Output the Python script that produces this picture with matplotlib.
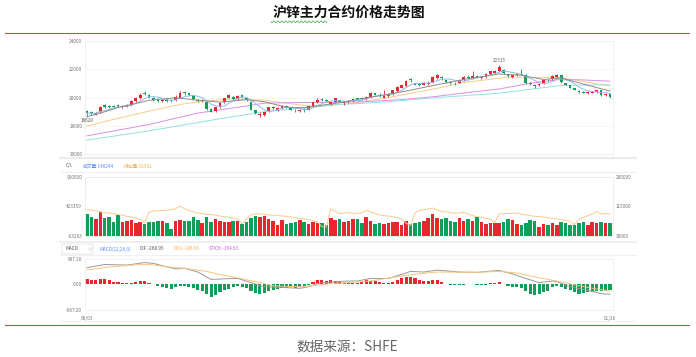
import numpy as np
import pandas as pd
import matplotlib
matplotlib.use("Agg")
import matplotlib.pyplot as plt
from matplotlib.lines import Line2D
from matplotlib.patches import FancyBboxPatch

plt.rcParams['font.family'] = ['Noto Sans CJK SC', 'DejaVu Sans']

# ---- data ----
title = "沪锌主力合约价格走势图"
source = "数据来源：SHFE"
date_first, date_last = "08/03", "01/26"

opens = [19050, 18980, 18800, 18950, 19450, 19420, 19400, 19480, 19300, 19350,
         19450, 19750, 19950, 20350, 20200, 20000, 19880, 19750, 19850, 19820,
         19800, 20000, 20400, 20300, 20100, 19850, 19750, 19700, 19200, 19050,
         19300, 19650, 20000, 20050, 19900, 20150, 20000, 19700, 19100, 18750,
         18800, 19050, 19250, 19150, 19250, 19400, 19250, 19150, 19050, 19200,
         19150, 19400, 19650, 19900, 19850, 19550, 19700, 19800, 19600, 19650,
         19750, 19950, 19950, 19900, 20050, 20300, 20200, 20000, 20100, 20250,
         20450, 20700, 20800, 21300, 21000, 20950, 20900, 20950, 21100, 21350,
         21450, 21200, 21100, 21050, 21050, 21200, 21450, 21350, 21500, 21350,
         21450, 21650, 21750, 21850, 21950, 21600, 21450, 21550, 21650, 21600,
         21050, 20900, 20850, 21000, 21250, 21300, 21450, 21550, 21000, 20850,
         20650, 20450, 20400, 20320, 20350, 20400, 20500, 20150, 20280]
closes = [18900, 18880, 18900, 19350, 19350, 19350, 19330, 19380, 19380, 19450,
          19750, 19950, 20200, 20250, 20050, 19850, 19750, 19820, 19780, 19760,
          20050, 20350, 20300, 20150, 19900, 19750, 19800, 19200, 19000, 19300,
          19600, 19950, 20150, 19900, 20100, 20050, 19800, 19150, 18900, 18850,
          18950, 19300, 19330, 19250, 19380, 19300, 19150, 19100, 19150, 19100,
          19400, 19650, 19850, 19800, 19750, 19650, 19950, 19700, 19650, 19750,
          19880, 19900, 19900, 20050, 20350, 20200, 20100, 20100, 20250, 20500,
          20750, 20850, 21150, 21200, 20900, 20900, 21000, 21050, 21450, 21550,
          21350, 21100, 21050, 21000, 21200, 21450, 21400, 21500, 21450, 21450,
          21650, 21850, 21900, 22150, 21700, 21500, 21550, 21650, 21600, 21000,
          20950, 20800, 20950, 21200, 21200, 21500, 21550, 21100, 20900, 20700,
          20550, 20400, 20350, 20370, 20400, 20500, 20150, 20280, 20050]
highs = [19100, 19050, 18980, 19420, 19550, 19500, 19450, 19550, 19450, 19520,
         19800, 20050, 20300, 20450, 20250, 20050, 19950, 19900, 19950, 19880,
         20150, 20450, 20450, 20350, 20150, 19900, 19900, 19750, 19250, 19350,
         19650, 20000, 20250, 20100, 20150, 20250, 20050, 19750, 19150, 18950,
         19000, 19350, 19400, 19300, 19450, 19450, 19300, 19200, 19200, 19250,
         19450, 19700, 19950, 19950, 19900, 19700, 20000, 19850, 19700, 19800,
         19950, 20000, 20050, 20100, 20400, 20350, 20300, 20550, 20300, 20550,
         20800, 20900, 21250, 21400, 21050, 21000, 21100, 21150, 21500, 21650,
         21500, 21250, 21150, 21100, 21250, 21500, 21550, 21900, 21550, 21500,
         21700, 21900, 21950, 22315, 22000, 21650, 21600, 21700, 22000, 21650,
         21100, 20950, 21000, 21250, 21300, 21550, 21650, 21600, 21050, 20900,
         20700, 20500, 20450, 20450, 20450, 20550, 20550, 20350, 20300]
lows = [18620, 18800, 18750, 18900, 19250, 19250, 19250, 19300, 19250, 19300,
        19400, 19700, 19900, 20150, 19950, 19750, 19700, 19700, 19700, 19650,
        19750, 19950, 20200, 20100, 19850, 19650, 19700, 19150, 18950, 19000,
        19250, 19600, 19950, 19850, 19850, 19950, 19750, 19100, 18850, 18650,
        18700, 19000, 19200, 19050, 19200, 19250, 19100, 19000, 18950, 19000,
        19100, 19350, 19600, 19750, 19700, 19450, 19650, 19650, 19500, 19600,
        19700, 19800, 19850, 19850, 20000, 20150, 20050, 19950, 20050, 20200,
        20400, 20650, 20750, 21100, 20850, 20800, 20850, 20900, 21050, 21300,
        21250, 21050, 20950, 20900, 21000, 21150, 21350, 21300, 21400, 21300,
        21400, 21600, 21700, 21800, 21650, 21450, 21400, 21500, 21550, 20950,
        20900, 20700, 20800, 20950, 21150, 21250, 21400, 21050, 20850, 20650,
        20500, 20350, 20300, 20250, 20300, 20350, 20100, 20100, 20000]

# moving averages (sampled at bar indices)
ma10_idx = [0, 3, 7, 12, 14, 20, 24, 30, 36, 40, 45, 49, 57, 64, 72, 79, 85, 93, 98, 103, 107, 111, 118]
ma10_val = [18650, 18900, 19300, 19650, 19800, 19980, 19850, 19670, 19850, 19700, 19320, 19280,
            19630, 20020, 20450, 20900, 21270, 21660, 21560, 21270, 21380, 21030, 20450]
ma20_idx = [0, 6, 14, 21, 26, 33, 40, 50, 60, 68, 79, 85, 94, 100, 107, 118]
ma20_val = [17990, 18460, 19040, 19510, 19740, 19900, 19810, 19400, 19580, 20000, 20650, 21050,
            21400, 21400, 21400, 20800]
ma40_idx = [0, 14, 25, 37, 40, 48, 55, 62, 71, 78, 86, 93, 100, 106, 111, 118]
ma40_val = [17300, 18100, 18900, 19450, 19600, 19650, 19650, 19700, 19850, 20050, 20350, 20600,
            21000, 21250, 21250, 21150]
ma60_idx = [0, 14, 29, 40, 57, 68, 77, 93, 107, 118]
ma60_val = [17000, 17650, 18450, 19000, 19500, 19700, 19950, 20300, 20850, 20900]

# volume and open interest, thousands of lots
volume_k = [292, 247, 214, 336, 225, 252, 158, 281, 168, 180, 192, 152, 163, 125, 168, 168, 185, 185, 152, 51,
            180, 197, 185, 185, 242, 197, 142, 242, 168, 209, 185, 168, 168, 185, 180, 130, 168, 236, 264,
            252, 264, 209, 185, 113, 197, 130, 152, 158, 197, 168, 130, 168, 142, 142, 113, 225, 197, 209, 168,
            180, 209, 209, 152, 242, 180, 130, 142, 130, 152, 168, 158, 113, 180, 130, 142, 168, 180, 225,
            298, 230,
            209, 225, 180, 168, 225, 180, 209, 180, 252, 168, 125, 152, 152, 152, 158, 209, 197, 130, 113, 142,
            197, 180, 85, 130, 113, 142, 113, 158, 142, 113, 113, 142, 168, 113, 158, 142, 158, 152, 148.244]
oi_k = [105, 104, 102, 99, 97, 95, 94, 91, 89, 86,
        84, 81, 77, 68, 98, 101, 102, 103, 104, 105,
        108, 115, 108, 103, 99, 95, 94, 92, 91, 89,
        87, 85, 83, 81, 78, 64, 79, 90, 93, 93,
        91, 90, 89, 88, 87, 86, 84, 82, 80, 78,
        76, 74, 70, 56, 55, 108, 100, 94, 95, 97,
        95, 94, 96, 104, 98, 94, 90, 88, 87, 85,
        82, 78, 66, 60, 96, 103, 105, 107, 110, 105,
        100, 99, 97, 95, 96, 97, 92, 88, 85, 83,
        80, 78, 68, 93, 94, 94, 95, 96, 92, 90,
        88, 86, 85, 84, 82, 80, 78, 76, 74, 71,
        62, 77, 83, 88, 92, 100, 92, 94, 92.591]

# MACD
macd_hist = [138, 112, 112, 138, 130, 104, 69, 60, 35, 26, 43, 60, 86, 78, 43,
             5, -52, -86, -112, -130, -86, -52, -43, -69, -112, -155, -190, -259, -345, -302,
             -216, -155, -120, -69, -43, -69, -112, -173, -233, -259, -242, -190, -155, -130, -112,
             -104, -86, -104, -86, -60, -26, 60, 112, 104, 86, 112, 86, 60, 43, 43,
             35, 43, 60, 104, 86, 86, 60, 43, 43, 60, 104, 155, 190, 190, 155,
             104, 86, 86, 121, 112, 69, 17, -9, -35, -26, -9, -3, 3, -17, -26,
             -9, 26, 43, 69, 17, -52, -69, -86, -112, -190, -259, -302, -276, -216, -173,
             -69, -43, -86, -130, -155, -216, -259, -242, -216, -199, -173, -173, -170, -164.63]
dif_idx = [0, 4, 9, 13, 15, 18, 20, 22, 25, 28, 31, 34, 37, 40, 44, 48, 50, 52, 55, 59,
           61, 64, 68, 72, 73, 76, 79, 81, 84, 88, 93, 96, 99, 102, 105, 106, 109, 114, 116, 118]
dif_val = [445, 531, 515, 583, 560, 470, 410, 428, 328, 128, 145, 155, 43, -69, -86, -112, -69, 17, 60, 86,
           86, 155, 155, 302, 345, 328, 380, 360, 328, 320, 371, 276, 155, 43, 86, 69, -69, -190, -259, -268.95]
dea_idx = [0, 5, 12, 14, 18, 22, 27, 30, 34, 39, 42, 48, 52, 55, 59, 64, 72, 79, 88, 93,
           97, 102, 106, 111, 115, 118]
dea_val = [384, 466, 531, 531, 470, 428, 345, 259, 173, 43, -43, -69, -26, 17, 43, 86, 242, 328, 320, 345,
           302, 173, 86, -43, -130, -186.63]

# ---- drawing ----
W, H = 696, 357
RED = '#e8262d'
GREEN = '#0e9f5a'
GRID = '#f2f2f2'
TICK = '#777777'
SMALL = 3.4

fig = plt.figure(figsize=(W / 100, H / 100), dpi=100)


def fx(v):
    return v / W


def fy(v):
    return 1 - v / H


def box(x0, y0, x1, y1):
    return [fx(x0), fy(y1), (x1 - x0) / W, (y1 - y0) / H]


def hline(y, x0, x1, color, lw):
    fig.add_artist(Line2D([fx(x0), fx(x1)], [fy(y), fy(y)], color=color, lw=lw))


def style(ax):
    for s in ax.spines.values():
        s.set_color('#eeeeee')
        s.set_linewidth(0.6)
    ax.tick_params(length=0, labelsize=SMALL, labelcolor=TICK, pad=2)
    ax.set_xticks([])


# title, squiggle, rules, footer
fig.text(fx(348.5), fy(13), title, ha='center', va='center', fontsize=10,
         fontweight='bold', color='#111111')
sx = np.linspace(271, 327, 120)
fig.add_artist(Line2D(fx(sx), fy(21.8 + 0.9 * np.sin(sx * 1.6)), color='#3aa24a', lw=0.5))
hline(33.3, 5, 689, '#c0504d', 0.8)
hline(325.3, 5, 689, '#c0504d', 0.8)
fig.text(fx(347.5), fy(347), source, ha='center', va='center', fontsize=9.8, color='#666666')

# widget separators
hline(158.3, 60, 636, '#ececec', 1.6)
hline(172.3, 60, 636, '#f0f0f0', 0.8)
hline(241.5, 60, 636, '#ececec', 1.2)
hline(255.3, 60, 636, '#f0f0f0', 0.8)
hline(320.7, 60, 636, '#f0f0f0', 0.8)

n = len(closes)
x = np.arange(n)
o = np.array(opens)
c = np.array(closes)
cols = [RED if cc >= oo else GREEN for oo, cc in zip(o, c)]
xl = (-0.45, 118.68)

# price panel
ax1 = fig.add_axes(box(85, 40.7, 613, 154.3))
style(ax1)
ax1.vlines(x, lows, highs, colors=cols, lw=0.6, zorder=3)
ax1.bar(x, np.abs(c - o), bottom=np.minimum(o, c), width=0.62, color=cols, zorder=3)
ma5 = pd.Series(closes).rolling(5, min_periods=1).mean()
ax1.plot(x, ma5, color='#8fb9f2', lw=0.7, zorder=4)
ax1.plot(ma10_idx, ma10_val, color='#8c8c8c', lw=0.7, zorder=4)
ax1.plot(ma20_idx, ma20_val, color='#f7cd86', lw=0.7, zorder=2)
ax1.plot(ma40_idx, ma40_val, color='#dc8ee6', lw=0.7, zorder=2)
ax1.plot(ma60_idx, ma60_val, color='#92e2e0', lw=0.7, zorder=2)
ax1.set_xlim(*xl)
ax1.set_ylim(16000, 24000)
ax1.set_yticks([16000, 18000, 20000, 22000, 24000])
ax1.grid(axis='y', color=GRID, lw=0.5)
ax1.set_axisbelow(True)
ihi = int(np.argmax(highs))
ilo = int(np.argmin(lows))
ax1.text(ihi, highs[ihi] + 80, str(highs[ihi]), ha='center', va='bottom', fontsize=SMALL, color='#666666')
ax1.text(ilo, lows[ilo] - 40, str(lows[ilo]), ha='center', va='top', fontsize=SMALL, color='#555555')

# C/L header row
fig.text(fx(66), fy(166), "C/L", ha='left', va='center', fontsize=SMALL, color='#666666')
fig.text(fx(83), fy(166), "成交量:%d" % round(volume_k[-1] * 1000), ha='left', va='center',
         fontsize=SMALL, color='#5b8ff9')
fig.text(fx(124), fy(166), "持仓量:%d" % round(oi_k[-1] * 1000), ha='left', va='center',
         fontsize=SMALL, color='#f2b04e')

# volume panel
VMIN, VMAX = -63283, 910000
ax2 = fig.add_axes(box(85, 177, 613, 235.6))
style(ax2)
vol = np.array(volume_k) * 1000
ax2.bar(x, vol - VMIN, bottom=VMIN, width=0.8, color=cols)
ax2.set_xlim(*xl)
ax2.set_ylim(VMIN, VMAX)
ax2.set_yticks([VMIN, 423359, VMAX])
ax2.set_yticklabels(['-63283', '423359', '910000'])
ax2r = ax2.twinx()
style(ax2r)
ax2r.plot(x, np.array(oi_k) * 1000, color='#f9cb8c', lw=0.7)
ax2r.set_ylim(30000, 200000)
ax2r.set_yticks([30000, 115000, 200000])
ax2r.set_yticklabels(['30000', '115000', '200000'])

# MACD header row
fig.add_artist(FancyBboxPatch((fx(62), fy(254)), (93 - 62) / W, 10 / H,
                              boxstyle='round,pad=0,rounding_size=0.003',
                              transform=fig.transFigure, fc='white', ec='#dddddd', lw=0.5))
fig.text(fx(65), fy(249), "MACD", ha='left', va='center', fontsize=SMALL, color='#555555')
fig.text(fx(87), fy(249), "∨", ha='left', va='center', fontsize=SMALL, color='#999999')
fig.text(fx(99), fy(249), "MACD(12,26,9)", ha='left', va='center', fontsize=SMALL, color='#5b8ff9')
fig.text(fx(140), fy(249), "DIF:%.2f" % dif_val[-1], ha='left', va='center', fontsize=SMALL, color='#555555')
fig.text(fx(174), fy(249), "DEA:%.2f" % dea_val[-1], ha='left', va='center', fontsize=SMALL, color='#f2b04e')
fig.text(fx(209), fy(249), "STICK:%.2f" % macd_hist[-1], ha='left', va='center', fontsize=SMALL,
         color='#c760d8')

# MACD panel
ax3 = fig.add_axes(box(85, 258.7, 613, 309.7))
style(ax3)
hcols = [RED if v >= 0 else GREEN for v in macd_hist]
ax3.bar(x, macd_hist, width=0.7, color=hcols)
ax3.plot(dif_idx, dif_val, color='#999999', lw=0.7)
ax3.plot(dea_idx, dea_val, color='#f7c67e', lw=0.7)
ax3.set_xlim(*xl)
ax3.set_ylim(-687.2, 687.2)
ax3.set_yticks([-687.2, 0, 687.2])
ax3.set_yticklabels(['-687.20', '0.00', '687.20'])
ax3.set_xticks([0, n - 1])
ax3.set_xticklabels([date_first, date_last])
ax3.tick_params(axis='x', length=0, labelsize=SMALL, labelcolor=TICK, pad=4.5)

fig.savefig("out.png", dpi=100)
